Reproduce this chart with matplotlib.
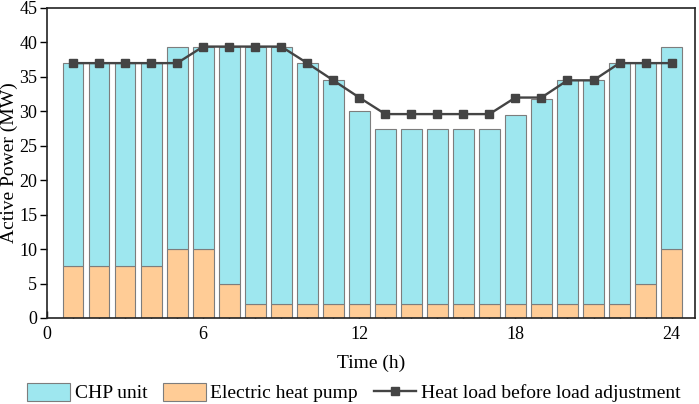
import numpy as np
import matplotlib
matplotlib.use('Agg')
import matplotlib.pyplot as plt

plt.rcParams['font.family'] = ['Liberation Serif', 'DejaVu Serif']

# data
hours = np.arange(1, 25)
total = [37, 37, 37, 37, 39.4, 39.4, 39.4, 39.4, 39.4, 37, 34.5, 30,
         27.5, 27.5, 27.5, 27.5, 27.5, 29.4, 31.8, 34.5, 34.5, 37, 37, 39.4]
ehp = [7.5, 7.5, 7.5, 7.5, 10, 10, 5, 2, 2, 2, 2, 2,
       2, 2, 2, 2, 2, 2, 2, 2, 2, 2, 5, 10]
heat_load = [37, 37, 37, 37, 37, 39.4, 39.4, 39.4, 39.4, 37, 34.5, 32,
             29.6, 29.6, 29.6, 29.6, 29.6, 32, 32, 34.5, 34.5, 37, 37, 37]
chp = np.array(total) - np.array(ehp)

fig = plt.figure(figsize=(6.99, 4.04), dpi=100)
ax = fig.add_axes([47/699, 1-318/404, 648/699, 310/404])

b_ehp = ax.bar(hours, ehp, width=0.8, color='#FFCC96', edgecolor='#7d7d7d', linewidth=0.8, zorder=2)
b_chp = ax.bar(hours, chp, bottom=ehp, width=0.8, color='#9EE7EF', edgecolor='#7d7d7d',
               linewidth=0.8, zorder=2)
ln, = ax.plot(hours, heat_load, color='#444444', linewidth=1.7, marker='s', markersize=5.5, zorder=3)

ax.set_xlim(0, 24.9)
ax.set_ylim(0, 45)
ax.set_xticks([0, 6, 12, 18, 24])
ax.set_xticks(np.arange(0, 25), minor=True)
ax.set_yticks(np.arange(0, 46, 5))
ax.tick_params(axis='x', direction='in', length=5, width=1, labelsize=13, pad=6)
ax.tick_params(axis='x', which='minor', direction='in', length=3, width=1)
ax.tick_params(axis='y', direction='out', length=5, width=1, labelsize=13, pad=2)
for s in ax.spines.values():
    s.set_linewidth(1.2)
    s.set_color('#222222')

ax.set_xlabel('Time (h)', fontsize=14, labelpad=8)
ax.set_ylabel('Active Power (MW)', fontsize=14, labelpad=1)

ax.legend([b_chp, b_ehp, ln], ['CHP unit', 'Electric heat pump', 'Heat load before load adjustment'],
          loc='upper left', bbox_to_anchor=(-0.031, -0.21), ncol=3, frameon=False, fontsize=14,
          handlelength=2.2, handleheight=1.0, columnspacing=0.8, handletextpad=0.25,
          borderaxespad=0, borderpad=0)

fig.savefig('out.png', dpi=100)
